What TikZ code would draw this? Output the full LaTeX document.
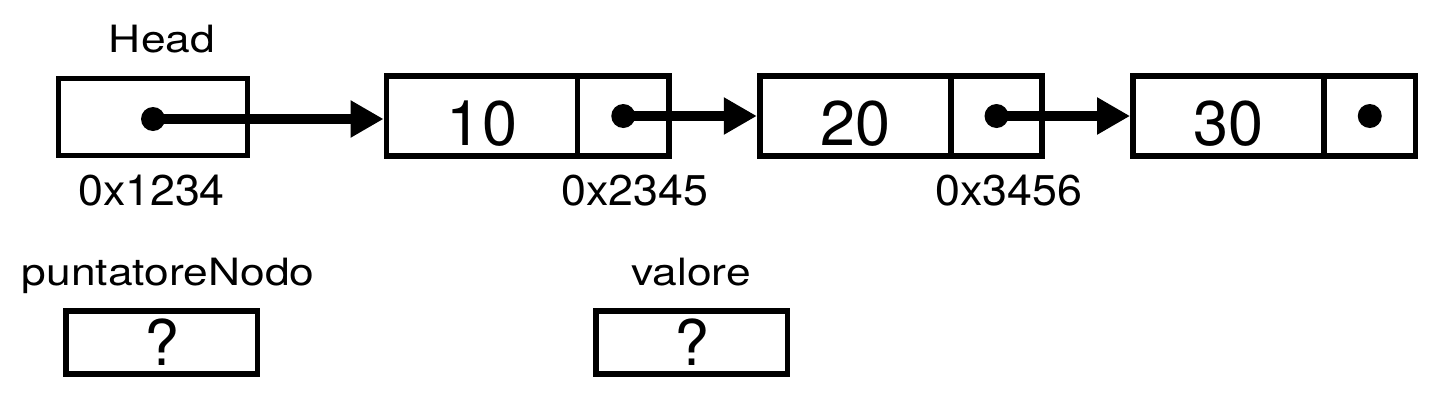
\documentclass[tikz,border=0pt]{standalone}
\usepackage{fontspec}
\setmainfont{TeX Gyre Heros}
\newfontfamily\labfont[FakeStretch=1.18]{TeX Gyre Heros}
\newfontfamily\addrfont[FakeStretch=1.04]{TeX Gyre Heros}
\usetikzlibrary{arrows.meta}
\tikzset{
  cellbox/.style={draw, line width=5.8pt, inner sep=0pt, minimum height=80pt,
    font=\fontsize{63}{70}\selectfont, text height=58pt, text depth=0pt},
  valcell/.style={cellbox, minimum width=191pt},
  ptrcell/.style={cellbox, minimum width=91.5pt},
  headbox/.style={cellbox, minimum width=189pt, minimum height=77pt},
  varbox/.style={cellbox, minimum width=191.7pt, minimum height=63pt,
    text height=46pt},
  dot/.style={circle, fill=black, inner sep=0pt, minimum size=24pt},
  ptr/.style={line width=10pt, -{Triangle[length=33pt, width=35pt]}},
  namelabel/.style={anchor=base, inner sep=0pt, font=\labfont\fontsize{37.6}{45}\selectfont},
  addrlabel/.style={anchor=base, inner sep=0pt, font=\addrfont\fontsize{43}{50}\selectfont}
}
\begin{document}
\begin{tikzpicture}[x=1pt,y=-1pt]
\useasboundingbox (0,0) rectangle (1432,418);
% head
\node[headbox] (head) at (153,117) {};
\node[namelabel] (headlbl) at (162,52) {Head};
\node[addrlabel] (a1) at (151.5,205) {0x1234};
% list nodes
\node[valcell] (n1v) at (482,116) {10};
\node[ptrcell] (n1p) at (623.25,116) {};
\node[valcell] (n2v) at (855.25,116) {20};
\node[ptrcell] (n2p) at (996.5,116) {};
\node[valcell] (n3v) at (1228.5,116) {30};
\node[ptrcell] (n3p) at (1369.75,116) {};
\node[addrlabel] (a2) at (635,205) {0x2345};
\node[addrlabel] (a3) at (1009,205) {0x3456};
% dots
\node[dot] (hd) at (153,119) {};
\node[dot] (d1) at (n1p.center) {};
\node[dot] (d2) at (n2p.center) {};
\node[dot] (d3) at (n3p.center) {};
% pointers
\draw[ptr] (hd.center) -- (hd.center -| n1v.west);
\draw[ptr] (d1.center) -- (d1.center -| n2v.west);
\draw[ptr] (d2.center) -- (d2.center -| n3v.west);
% variables
\node[namelabel] (pnlbl) at (168,285) {puntatoreNodo};
\node[varbox] (pn) at (161.7,342.5) {?};
\node[namelabel] (vlbl) at (691,285) {valore};
\node[varbox] (val) at (691.7,342.5) {?};
\end{tikzpicture}
\end{document}
